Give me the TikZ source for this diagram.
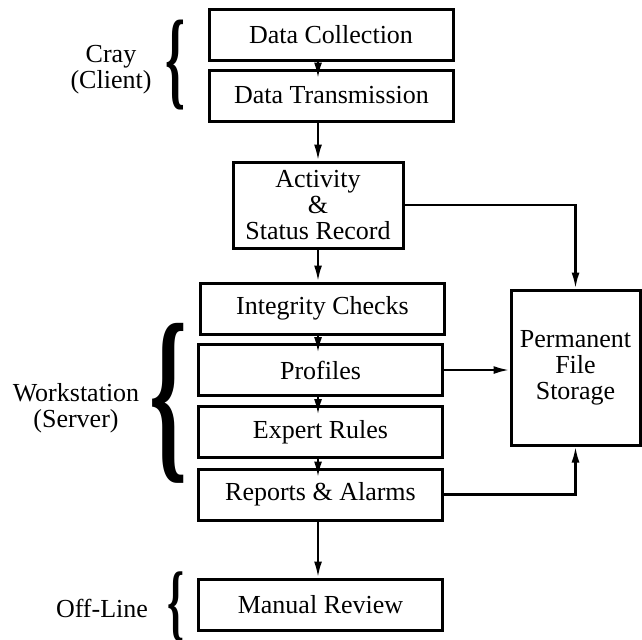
\documentclass[tikz,border=0pt]{standalone}
\usepackage{fontspec}
\setmainfont{Liberation Serif}
\usepackage{graphicx}
\usetikzlibrary{arrows.meta}

\begin{document}
\begin{tikzpicture}[x=0.5pt, y=-0.5pt,
    stage/.style={draw, line width=1.5pt, minimum width=122pt, minimum height=25.5pt,
      inner sep=0pt, align=center, font=\fontsize{13}{13}\selectfont},
    flow/.style={-{Latex[length=8pt,width=4pt]}, line width=1.2pt},
    dip/.style={shorten >=-5pt},
    curl/.style={inner sep=0pt, font=\bfseries},
    side/.style={align=center, font=\fontsize{13}{13}\selectfont}]
        \useasboundingbox (0,0) rectangle (642,639);

        % Cray side
        \node[stage] (dc) at (331,34.5) {Data Collection};
        \node[stage] (dt) at (331.5,95.5) {Data Transmission};
        \node[stage, minimum width=85pt, minimum height=43pt] (act) at (318,205) {Activity\\\&\\Status Record};

        % Workstation side
        \node[stage] (ic) at (322.5,308.5) {Integrity Checks};
        \node[stage] (prof) at (320.5,370) {Profiles};
        \node[stage] (er) at (320.5,432) {Expert Rules};
        \node[stage] (ra) at (320.5,494.5) {Reports \& Alarms};
        \node[stage] (mr) at (320.5,604.5) {Manual Review};

        % Storage
        \node[stage, minimum width=64.5pt, minimum height=77.5pt] (perm) at (575.5,367.5) {Permanent\\File\\Storage};

        % Braces and labels
        \node[curl] (bcray) at (175,65) {\resizebox*{10pt}{45pt}{\{}};
        \node[side] (cray) at (111,70) {Cray\\(Client)};
        \node[curl] (bws) at (169,403) {\resizebox*{19pt}{80pt}{\{}};
        \node[side] (ws) at (76,408) {Workstation\\(Server)};
        \node[curl] (boff) at (176,607) {\resizebox*{8.5pt}{35pt}{\{}};
        \node[side] (off) at (102,608) {Off-Line};

        % Flow down the stack
        \draw[flow, dip] (dc.south -| act) -- (dt.north -| act);
        \draw[flow] (dt.south -| act) -- (act.north);
        \draw[flow] (act.south) -- (ic.north -| act);
        \draw[flow, dip] (ic.south -| act) -- (prof.north -| act);
        \draw[flow, dip] (prof.south -| act) -- (er.north -| act);
        \draw[flow, dip] (er.south -| act) -- (ra.north -| act);
        \draw[flow] (ra.south -| act) -- (mr.north -| act);

        % Into storage
        \draw[flow] (act.east) -| (perm.north);
        \draw[flow] (prof.east) -- (prof.east -| perm.west);
        \draw[flow] (ra.east) -| (perm.south);
\end{tikzpicture}
\end{document}
